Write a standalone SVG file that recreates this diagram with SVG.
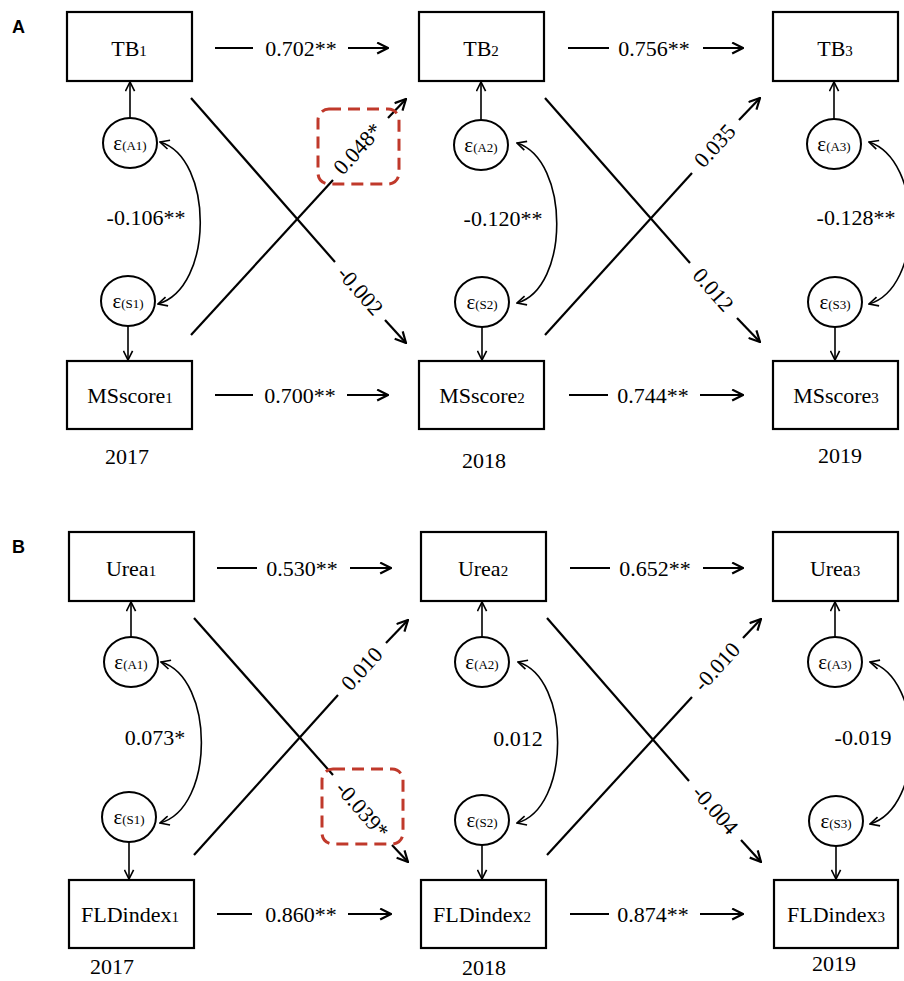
<svg xmlns="http://www.w3.org/2000/svg" width="904" height="981" viewBox="0 0 904 981">
<defs>
<style>
.box{fill:#fff;stroke:#000;stroke-width:2.2}
.eps{fill:#fff;stroke:#000;stroke-width:2}
.t{font-family:"Liberation Serif","Times New Roman",serif;font-size:22px;fill:#000;text-anchor:middle}
.sub{font-size:15px}
.et{font-family:"Liberation Serif","Times New Roman",serif;font-size:21px;fill:#000;text-anchor:middle}
.es{font-size:13px}
.pl{font-family:"Liberation Sans",Arial,sans-serif;font-size:18px;font-weight:bold;fill:#000}
.ln{fill:none;stroke:#000;stroke-width:2.2}
.thin{fill:none;stroke:#000;stroke-width:1.6}
.dash{fill:none;stroke:#c0392b;stroke-width:3;stroke-dasharray:12 7}
</style>
<marker id="arr" viewBox="0 0 12 12" refX="11" refY="6" markerWidth="13" markerHeight="13" markerUnits="userSpaceOnUse" orient="auto-start-reverse">
<path d="M1,1 L11,6 L1,11" fill="none" stroke="#000" stroke-width="2"/>
</marker>
<marker id="arrs" viewBox="0 0 12 12" refX="11" refY="6" markerWidth="11" markerHeight="11" markerUnits="userSpaceOnUse" orient="auto-start-reverse">
<path d="M1,1 L11,6 L1,11" fill="none" stroke="#000" stroke-width="1.8"/>
</marker>
</defs>
<rect width="904" height="981" fill="#fff"/>

<text class="pl" x="12" y="33">A</text>
<text class="pl" x="12" y="553">B</text>

<!-- Panel A nodes -->
<g id="TB1"><rect class="box" x="67" y="12" width="125" height="69"/><text class="t" x="129" y="56">TB<tspan class="sub">1</tspan></text></g>
<g id="TB2"><rect class="box" x="419" y="12" width="125" height="69"/><text class="t" x="481" y="56">TB<tspan class="sub">2</tspan></text></g>
<g id="TB3"><rect class="box" x="773" y="12" width="125" height="69"/><text class="t" x="835" y="56">TB<tspan class="sub">3</tspan></text></g>
<g id="MSscore1"><rect class="box" x="67" y="361" width="125" height="68"/><text class="t" x="130" y="403">MSscore<tspan class="sub">1</tspan></text></g>
<g id="MSscore2"><rect class="box" x="419" y="361" width="125" height="68"/><text class="t" x="482" y="403">MSscore<tspan class="sub">2</tspan></text></g>
<g id="MSscore3"><rect class="box" x="773" y="361" width="125" height="68"/><text class="t" x="836" y="403">MSscore<tspan class="sub">3</tspan></text></g>
<g id="eA1a"><ellipse class="eps" cx="130" cy="143" rx="27" ry="25"/><text class="et" x="130" y="150">ε<tspan class="es">(A1)</tspan></text></g>
<g id="eA2a"><ellipse class="eps" cx="481" cy="145" rx="27" ry="25"/><text class="et" x="481" y="152">ε<tspan class="es">(A2)</tspan></text></g>
<g id="eA3a"><ellipse class="eps" cx="834" cy="144" rx="27" ry="25"/><text class="et" x="834" y="151">ε<tspan class="es">(A3)</tspan></text></g>
<g id="eS1a"><ellipse class="eps" cx="128" cy="301" rx="27" ry="25"/><text class="et" x="128" y="308">ε<tspan class="es">(S1)</tspan></text></g>
<g id="eS2a"><ellipse class="eps" cx="482" cy="302" rx="27" ry="25"/><text class="et" x="482" y="309">ε<tspan class="es">(S2)</tspan></text></g>
<g id="eS3a"><ellipse class="eps" cx="835" cy="302" rx="27" ry="25"/><text class="et" x="835" y="309">ε<tspan class="es">(S3)</tspan></text></g>

<!-- Panel B nodes -->
<g id="Urea1"><rect class="box" x="69" y="532" width="125" height="69"/><text class="t" x="131" y="576">Urea<tspan class="sub">1</tspan></text></g>
<g id="Urea2"><rect class="box" x="421" y="532" width="125" height="69"/><text class="t" x="483" y="576">Urea<tspan class="sub">2</tspan></text></g>
<g id="Urea3"><rect class="box" x="773" y="532" width="125" height="69"/><text class="t" x="835" y="576">Urea<tspan class="sub">3</tspan></text></g>
<g id="FLDindex1"><rect class="box" x="69" y="880" width="125" height="68"/><text class="t" x="130" y="922">FLDindex<tspan class="sub">1</tspan></text></g>
<g id="FLDindex2"><rect class="box" x="421" y="880" width="125" height="68"/><text class="t" x="482" y="922">FLDindex<tspan class="sub">2</tspan></text></g>
<g id="FLDindex3"><rect class="box" x="774" y="880" width="124" height="68"/><text class="t" x="836" y="922">FLDindex<tspan class="sub">3</tspan></text></g>
<g id="eA1b"><ellipse class="eps" cx="131" cy="662" rx="27" ry="25"/><text class="et" x="131" y="669">ε<tspan class="es">(A1)</tspan></text></g>
<g id="eA2b"><ellipse class="eps" cx="482" cy="662" rx="27" ry="25"/><text class="et" x="482" y="669">ε<tspan class="es">(A2)</tspan></text></g>
<g id="eA3b"><ellipse class="eps" cx="835" cy="662" rx="27" ry="25"/><text class="et" x="835" y="669">ε<tspan class="es">(A3)</tspan></text></g>
<g id="eS1b"><ellipse class="eps" cx="129" cy="817" rx="27" ry="25"/><text class="et" x="129" y="824">ε<tspan class="es">(S1)</tspan></text></g>
<g id="eS2b"><ellipse class="eps" cx="482" cy="820" rx="27" ry="25"/><text class="et" x="482" y="827">ε<tspan class="es">(S2)</tspan></text></g>
<g id="eS3b"><ellipse class="eps" cx="836" cy="821" rx="27" ry="25"/><text class="et" x="836" y="828">ε<tspan class="es">(S3)</tspan></text></g>

<!-- years -->
<g id="years">
<text class="t" x="127" y="464">2017</text>
<text class="t" x="484" y="468">2018</text>
<text class="t" x="840" y="463">2019</text>
<text class="t" x="112" y="974">2017</text>
<text class="t" x="484" y="975">2018</text>
<text class="t" x="834" y="971">2019</text>
</g>

<g id="connectors">
<!-- Panel A horizontal -->
<line class="ln" x1="215" y1="48" x2="253" y2="48"/><text class="t" x="301" y="56">0.702**</text><line class="ln" x1="348" y1="48" x2="388" y2="48" marker-end="url(#arr)"/>
<line class="ln" x1="568" y1="48" x2="609" y2="48"/><text class="t" x="654" y="56">0.756**</text><line class="ln" x1="703" y1="48" x2="743" y2="48" marker-end="url(#arr)"/>
<line class="ln" x1="215" y1="395" x2="253" y2="395"/><text class="t" x="300" y="403">0.700**</text><line class="ln" x1="347" y1="395" x2="388" y2="395" marker-end="url(#arr)"/>
<line class="ln" x1="569" y1="395" x2="608" y2="395"/><text class="t" x="653" y="403">0.744**</text><line class="ln" x1="700" y1="395" x2="743" y2="395" marker-end="url(#arr)"/>

<!-- Panel A epsilon arrows -->
<line class="thin" x1="130" y1="118" x2="130" y2="82" marker-end="url(#arrs)"/>
<line class="thin" x1="481" y1="120" x2="481" y2="82" marker-end="url(#arrs)"/>
<line class="thin" x1="834" y1="119" x2="834" y2="82" marker-end="url(#arrs)"/>
<line class="thin" x1="128" y1="326" x2="128" y2="360" marker-end="url(#arrs)"/>
<line class="thin" x1="482" y1="327" x2="482" y2="360" marker-end="url(#arrs)"/>
<line class="thin" x1="835" y1="327" x2="835" y2="360" marker-end="url(#arrs)"/>

<!-- Panel A covariances -->
<path class="thin" d="M160,142 C214,158 214,288 158,304" marker-start="url(#arrs)" marker-end="url(#arrs)"/>
<text class="t" x="146" y="225">-0.106**</text>
<path class="thin" d="M517,143 C570,160 570,288 517,303" marker-start="url(#arrs)" marker-end="url(#arrs)"/>
<text class="t" x="503" y="226">-0.120**</text>
<path class="thin" d="M869,142 C924,160 924,288 869,304" marker-start="url(#arrs)" marker-end="url(#arrs)"/>
<text class="t" x="856" y="225">-0.128**</text>

<!-- Panel A cross-lagged -->
<line class="ln" x1="191" y1="98" x2="335" y2="262"/>
<text class="t" transform="translate(360,291) rotate(48.7)" y="7">-0.002</text>
<line class="ln" x1="385" y1="320" x2="406" y2="343" marker-end="url(#arr)"/>
<line class="ln" x1="191" y1="335" x2="333" y2="180"/>
<text class="t" transform="translate(358,149) rotate(-47.7)" y="7">0.048*</text>
<line class="ln" x1="388" y1="118" x2="406" y2="99" marker-end="url(#arr)"/>
<rect class="dash" x="318" y="109" width="81" height="75" rx="11"/>
<line class="ln" x1="545" y1="98" x2="690" y2="263"/>
<text class="t" transform="translate(713,290) rotate(48.6)" y="7">0.012</text>
<line class="ln" x1="737" y1="318" x2="760" y2="342" marker-end="url(#arr)"/>
<line class="ln" x1="545" y1="335" x2="692" y2="173"/>
<text class="t" transform="translate(715,146) rotate(-47.8)" y="7">0.035</text>
<line class="ln" x1="739" y1="120" x2="760" y2="98" marker-end="url(#arr)"/>

<!-- Panel B horizontal -->
<line class="ln" x1="217" y1="568" x2="257" y2="568"/><text class="t" x="302" y="576">0.530**</text><line class="ln" x1="350" y1="568" x2="391" y2="568" marker-end="url(#arr)"/>
<line class="ln" x1="570" y1="568" x2="610" y2="568"/><text class="t" x="655" y="576">0.652**</text><line class="ln" x1="703" y1="568" x2="743" y2="568" marker-end="url(#arr)"/>
<line class="ln" x1="217" y1="914" x2="252" y2="914"/><text class="t" x="301" y="922">0.860**</text><line class="ln" x1="348" y1="914" x2="391" y2="914" marker-end="url(#arr)"/>
<line class="ln" x1="570" y1="914" x2="609" y2="914"/><text class="t" x="653" y="922">0.874**</text><line class="ln" x1="700" y1="914" x2="743" y2="914" marker-end="url(#arr)"/>

<!-- Panel B epsilon arrows -->
<line class="thin" x1="131" y1="637" x2="131" y2="602" marker-end="url(#arrs)"/>
<line class="thin" x1="482" y1="637" x2="482" y2="602" marker-end="url(#arrs)"/>
<line class="thin" x1="835" y1="637" x2="835" y2="602" marker-end="url(#arrs)"/>
<line class="thin" x1="129" y1="842" x2="129" y2="879" marker-end="url(#arrs)"/>
<line class="thin" x1="482" y1="845" x2="482" y2="879" marker-end="url(#arrs)"/>
<line class="thin" x1="836" y1="846" x2="836" y2="879" marker-end="url(#arrs)"/>

<!-- Panel B covariances -->
<path class="thin" d="M161,662 C215,678 215,808 160,823" marker-start="url(#arrs)" marker-end="url(#arrs)"/>
<text class="t" x="155" y="745">0.073*</text>
<path class="thin" d="M518,662 C571,678 571,808 517,823" marker-start="url(#arrs)" marker-end="url(#arrs)"/>
<text class="t" x="518" y="746">0.012</text>
<path class="thin" d="M870,662 C925,678 925,808 870,824" marker-start="url(#arrs)" marker-end="url(#arrs)"/>
<text class="t" x="863" y="745">-0.019</text>

<!-- Panel B cross-lagged -->
<line class="ln" x1="194" y1="618" x2="333" y2="775"/>
<text class="t" transform="translate(362,810) rotate(48.7)" y="7">-0.039*</text>
<line class="ln" x1="392" y1="845" x2="408" y2="862" marker-end="url(#arr)"/>
<rect class="dash" x="322" y="769" width="81" height="75" rx="11"/>
<line class="ln" x1="194" y1="855" x2="338" y2="695"/>
<text class="t" transform="translate(362,669) rotate(-47.7)" y="7">0.010</text>
<line class="ln" x1="386" y1="643" x2="408" y2="620" marker-end="url(#arr)"/>
<line class="ln" x1="547" y1="618" x2="689" y2="781"/>
<text class="t" transform="translate(715,810) rotate(48.7)" y="7">-0.004</text>
<line class="ln" x1="741" y1="840" x2="761" y2="862" marker-end="url(#arr)"/>
<line class="ln" x1="547" y1="855" x2="692" y2="697"/>
<text class="t" transform="translate(717,667) rotate(-47.8)" y="7">-0.010</text>
<line class="ln" x1="743" y1="638" x2="761" y2="619" marker-end="url(#arr)"/>
</g>
</svg>
